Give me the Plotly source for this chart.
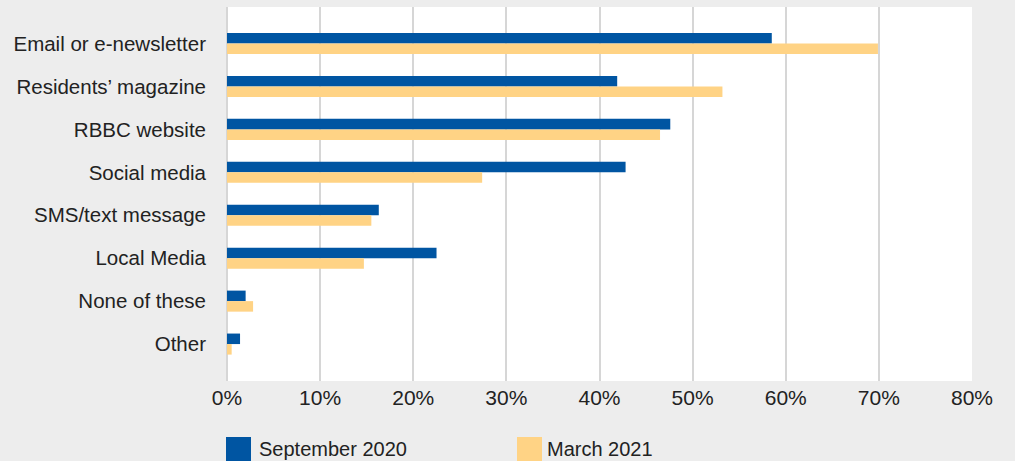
import plotly.graph_objects as go

categories = ["Email or e-newsletter", "Residents’ magazine", "RBBC website", "Social media",
              "SMS/text message", "Local Media", "None of these", "Other"]
sep_2020 = [58.5, 41.9, 47.6, 42.8, 16.3, 22.5, 2.0, 1.4]
mar_2021 = [69.9, 53.2, 46.5, 27.4, 15.5, 14.7, 2.8, 0.5]
series_names = ["September 2020", "March 2021"]
x_ticks = [0, 10, 20, 30, 40, 50, 60, 70, 80]

BLUE = "#0055a2"
YELLOW = "#ffd385"
FONT = "Liberation Sans, Arial, sans-serif"
TXT = "#222222"

fig = go.Figure()
fig.add_trace(go.Bar(y=categories, x=sep_2020, orientation="h", name=series_names[0],
                     marker=dict(color=BLUE, line=dict(width=0))))
fig.add_trace(go.Bar(y=categories, x=mar_2021, orientation="h", name=series_names[1],
                     marker=dict(color=YELLOW, line=dict(width=0))))

fig.update_layout(
    width=1015, height=461,
    margin=dict(l=227, r=43, t=7, b=80),
    paper_bgcolor="#ededed", plot_bgcolor="#ffffff",
    barmode="group", bargap=0.51, bargroupgap=0,
    showlegend=False,
    font=dict(family=FONT, color=TXT),
)
fig.update_xaxes(range=[0, 80], tickvals=x_ticks, ticktext=[f"{v}%" for v in x_ticks],
                 showgrid=True, gridcolor="#d6d6d6", gridwidth=1.5,
                 zeroline=True, zerolinecolor="#d6d6d6", zerolinewidth=1.5,
                 ticks="", ticklabelstandoff=2, tickfont=dict(size=21, family=FONT, color=TXT),
                 fixedrange=True)
fig.update_yaxes(categoryorder="array", categoryarray=categories,
                 range=[7.86, -0.85], showgrid=False, zeroline=False, ticks="",
                 ticklabelstandoff=20, tickfont=dict(size=20.5, family=FONT, color=TXT),
                 fixedrange=True)

# custom legend
def px2x(px):
    return (px - 227) / 745.0

def py2y(py):
    return (381 - py) / 374.0

legend_items = [(series_names[0], BLUE, 226, 257), (series_names[1], YELLOW, 517, 545)]
for name, col, sx, tx in legend_items:
    fig.add_shape(type="rect", xref="paper", yref="paper",
                  x0=px2x(sx), x1=px2x(sx + 25), y0=py2y(437), y1=py2y(470),
                  fillcolor=col, line=dict(width=0))
    fig.add_annotation(xref="paper", yref="paper", x=px2x(tx), y=py2y(449),
                       text=name, showarrow=False, xanchor="left", yanchor="middle",
                       font=dict(size=20, family=FONT, color=TXT))

fig.write_html("out.html", config={"displayModeBar": False},
               post_script="document.body.style.margin='0';document.body.style.padding='0';")
